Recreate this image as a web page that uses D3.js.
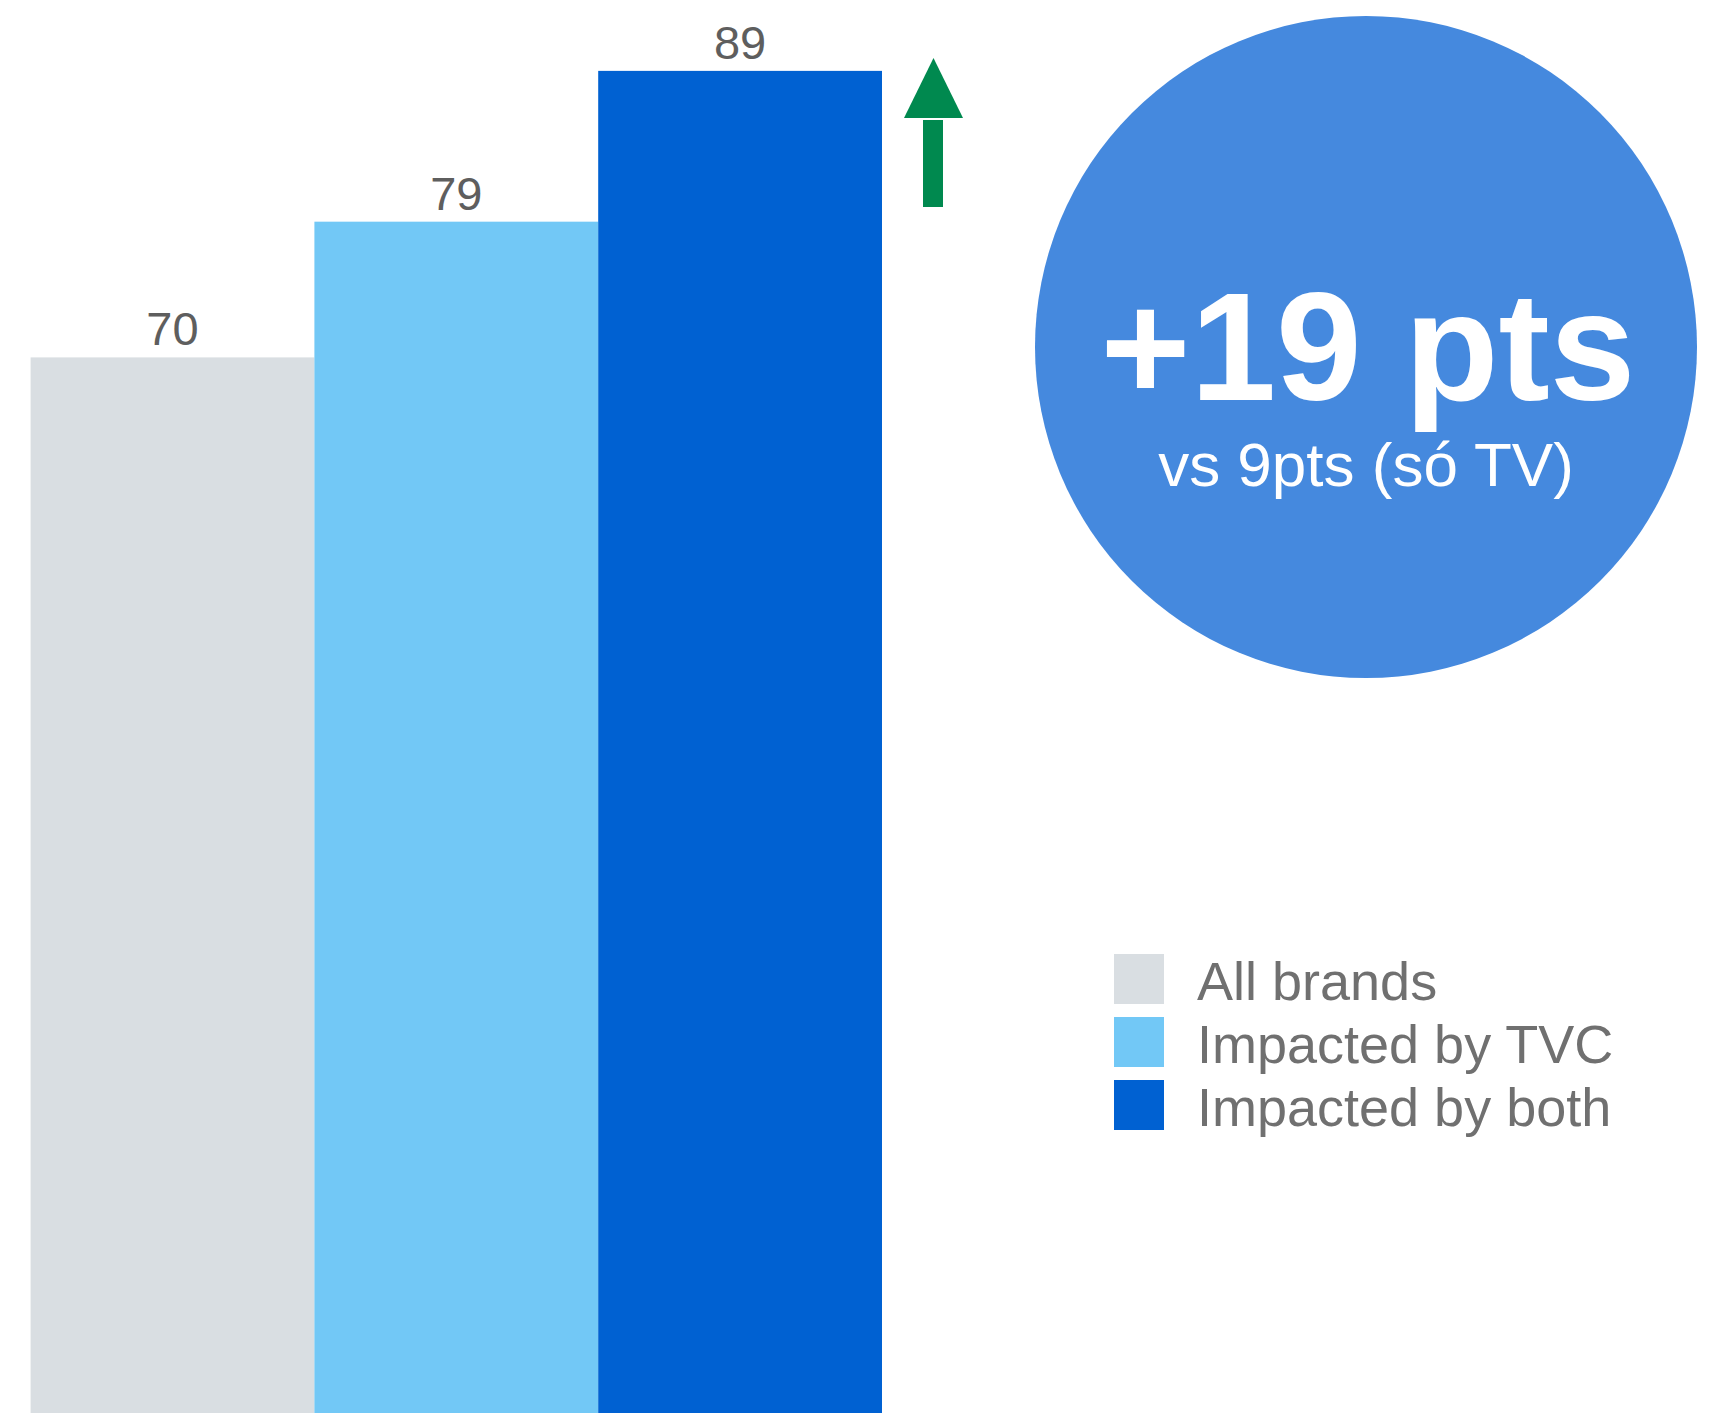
<!DOCTYPE html>
<html>
<head>
<meta charset="utf-8">
<script src="https://cdn.jsdelivr.net/npm/d3@7"></script>
<style>
  html, body { margin: 0; padding: 0; background: #ffffff; }
  svg { display: block; font-family: "Liberation Sans", Arial, Helvetica, sans-serif; }
</style>
</head>
<body>
<svg id="chart" width="1716" height="1413"></svg>
<script>
// Brand score by exposure group
const categories = ["All brands", "Impacted by TVC", "Impacted by both"];
const values = [70, 79, 89];
const colors = ["#D9DEE2", "#72C8F6", "#0061D2"];
const calloutMain = "+19 pts";
const calloutSub = "vs 9pts (só TV)";

const W = 1716, H = 1413;
const svg = d3.select("#chart");

const x = d3.scaleBand().domain(categories).range([30.6, 882]).padding(0);
const y = d3.scaleLinear().domain([0, 93.7]).range([H, 0]);
const color = d3.scaleOrdinal().domain(categories).range(colors);

const data = categories.map((c, i) => ({ cat: c, v: values[i] }));

// Bars
svg.append("g").selectAll("rect")
  .data(data)
  .join("rect")
  .attr("x", d => x(d.cat))
  .attr("y", d => y(d.v))
  .attr("width", x.bandwidth())
  .attr("height", d => y(0) - y(d.v))
  .attr("fill", d => color(d.cat));

// Value labels above bars
svg.append("g").selectAll("text")
  .data(data)
  .join("text")
  .attr("x", d => x(d.cat) + x.bandwidth() / 2)
  .attr("y", d => y(d.v) - 12)
  .attr("text-anchor", "middle")
  .attr("font-size", 47)
  .attr("fill", "#5E5E5E")
  .text(d => d.v);

// Green up arrow beside the tallest bar
const arrow = svg.append("g").attr("fill", "#00894F");
arrow.append("path").attr("d", "M933.5,58 L963,118 L904,118 Z");
arrow.append("rect").attr("x", 923).attr("y", 120).attr("width", 20).attr("height", 87);

// Callout circle
const callout = svg.append("g");
callout.append("circle")
  .attr("cx", 1366).attr("cy", 347).attr("r", 331)
  .attr("fill", "#4589DE");
callout.append("text")
  .attr("x", 1368).attr("y", 400)
  .attr("text-anchor", "middle")
  .attr("font-size", 154)
  .attr("font-weight", "bold")
  .attr("fill", "#ffffff")
  .text(calloutMain);
callout.append("text")
  .attr("x", 1366).attr("y", 486)
  .attr("text-anchor", "middle")
  .attr("font-size", 62)
  .attr("fill", "#ffffff")
  .text(calloutSub);

// Legend
const legend = svg.append("g").attr("transform", "translate(1114,954)");
const rowY = d3.scalePoint().domain(categories).range([0, 126]);
const item = legend.selectAll("g")
  .data(categories)
  .join("g")
  .attr("transform", d => `translate(0,${rowY(d)})`);
item.append("rect")
  .attr("width", 50).attr("height", 50)
  .attr("fill", d => color(d));
item.append("text")
  .attr("x", 83).attr("y", 46)
  .attr("font-size", 54)
  .attr("fill", "#707070")
  .text(d => d);
</script>
</body>
</html>
